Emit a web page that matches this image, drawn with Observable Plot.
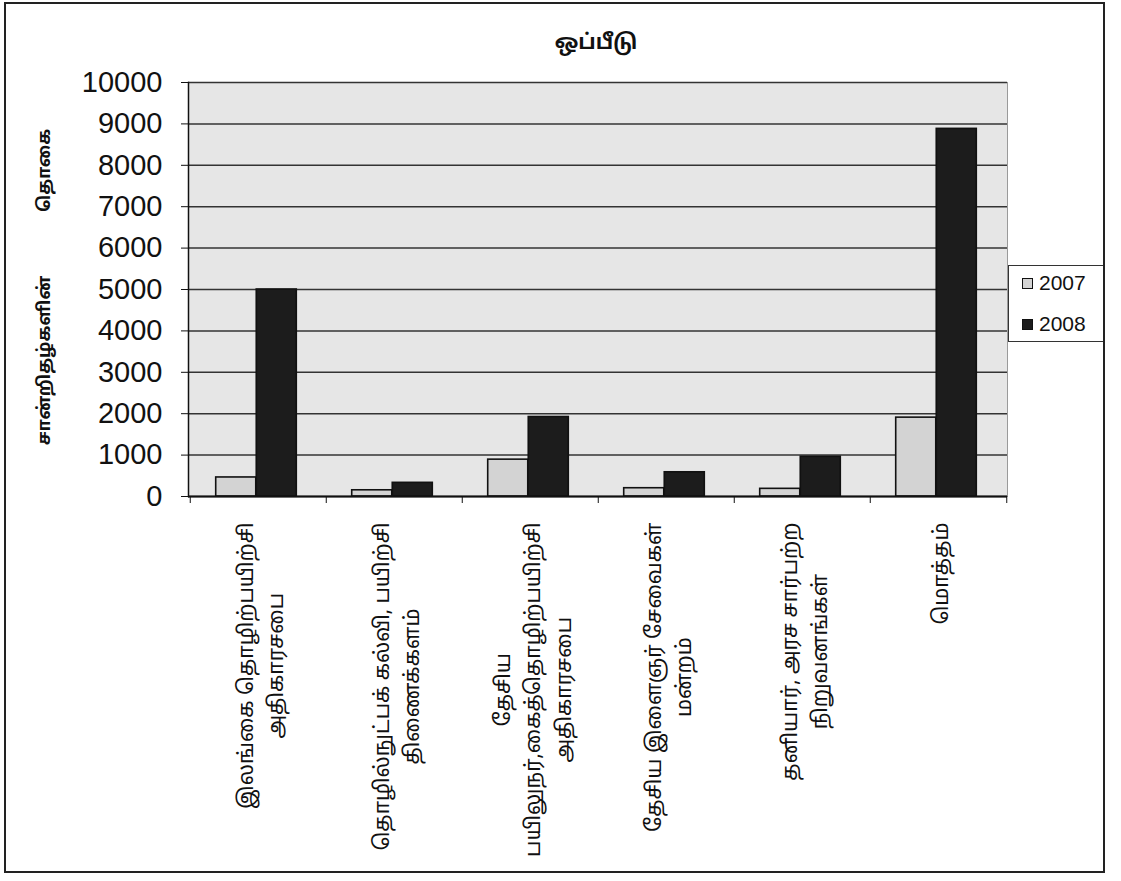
<!DOCTYPE html>
<html>
<head>
<meta charset="utf-8">
<script src="https://cdn.jsdelivr.net/npm/d3@7"></script>
<script src="https://cdn.jsdelivr.net/npm/@observablehq/plot@0.6"></script>
<style>
  body { margin: 0; background: #fff; }
  #wrap { position: relative; width: 1121px; height: 881px; overflow: hidden; background: #fff; }
  #border { position: absolute; left: 4px; top: 2px; width: 1101px; height: 871px; border: 2px solid #222; box-sizing: border-box; pointer-events: none; }
  #title { position: absolute; left: 396px; top: 31px; width: 400px; text-align: center; font: bold 21px "Noto Sans Tamil", "Noto Sans", "Liberation Sans", sans-serif; color: #111; }
  #ylabel { position: absolute; left: 45px; top: 287px; transform: translate(-50%, -50%) rotate(-90deg); white-space: pre; font: bold 17.5px "Noto Sans Tamil", "Noto Sans", "Liberation Sans", sans-serif; color: #111; }
  #legend { position: absolute; left: 1008px; top: 265px; width: 96px; height: 77px; border: 1.5px solid #333; box-sizing: border-box; background: #fff; font: 21px "Liberation Sans", Arial, sans-serif; color: #111; }
  .item { position: absolute; left: 13px; display: flex; align-items: center; }
  .sw { width: 11px; height: 11px; border: 1.5px solid #111; margin-right: 6px; box-sizing: border-box; }
  #chart { position: absolute; left: 0; top: 0; }
</style>
</head>
<body>
<div id="wrap">
  <div id="chart"></div>
  <div id="title"></div>
  <div id="ylabel"></div>
  <div id="legend"></div>
  <div id="border"></div>
</div>
<script>
// ---- data ----
const title = "ஒப்பீடு";
const yLabel = "சான்றிதழ்களின்              தொகை";
const categories = [
  "இலங்கை தொழிற்பயிற்சி\nஅதிகாரசபை",
  "தொழில்நுட்பக் கல்வி, பயிற்சி\nதிணைக்களம்",
  "தேசிய\nபயிலுநர்,கைத்தொழிற்பயிற்சி\nஅதிகாரசபை",
  "தேசிய இளைஞர் சேவைகள்\nமன்றம்",
  "தனியார், அரச சார்பற்ற\nநிறுவனங்கள்",
  "மொத்தம்"
];
const seriesNames = ["2007", "2008"];
const values2007 = [460, 150, 890, 200, 185, 1905];
const values2008 = [5000, 330, 1920, 585, 960, 8880];
const yTicks = [0, 1000, 2000, 3000, 4000, 5000, 6000, 7000, 8000, 9000, 10000];

// ---- layout ----
const W = 1121, H = 881;
const mL = 188, mR = 114, mT = 82, mB = 385;
const step = (W - mL - mR) / categories.length;
const barW = step * 0.297;
const colors = ["#d3d3d3", "#1c1c1c"];
const tamilFont = "'Noto Sans Tamil', 'Noto Sans', 'Liberation Sans', sans-serif";

const rows = categories.map((c, i) => ({cat: c, v2007: values2007[i], v2008: values2008[i]}));

const plot = Plot.plot({
  width: W, height: H,
  marginLeft: mL, marginRight: mR, marginTop: mT, marginBottom: mB,
  style: {fontFamily: "'Liberation Sans', Arial, sans-serif", color: "#111", background: "transparent"},
  x: {domain: categories, padding: 0, label: null},
  y: {domain: [0, 10000], label: null},
  marks: [
    Plot.frame({fill: "#e6e6e6", stroke: "#9a9a9a"}),
    Plot.ruleY(yTicks, {stroke: "#333", strokeWidth: 1.5}),
    Plot.barY(rows, {x: "cat", y: "v2007", fill: colors[0], stroke: "#111", strokeWidth: 1.6,
      insetLeft: step / 2 - barW - 2, insetRight: step / 2 + 2}),
    Plot.barY(rows, {x: "cat", y: "v2008", fill: colors[1], stroke: "#111", strokeWidth: 1.6,
      insetLeft: step / 2 - 2, insetRight: step / 2 - barW + 2}),
    Plot.ruleY([0], {stroke: "#111", strokeWidth: 2}),
    Plot.frame({anchor: "left", stroke: "#111", strokeWidth: 1.5}),
    Plot.axisY({ticks: yTicks, tickSize: 7, tickPadding: 19, fontSize: 29, tickFormat: d => String(d), label: null}),
    Plot.axisX({tickSize: 0, tickPadding: 26, tickRotate: -90, fontSize: 21, lineHeight: 1.45,
      fontFamily: tamilFont, label: null}),
    Plot.axisX({tickSize: 7, tickFormat: () => "", dx: -step / 2, label: null}),
    Plot.axisX({ticks: [categories[categories.length - 1]], tickSize: 7, tickFormat: () => "", dx: step / 2, label: null})
  ]
});
document.getElementById("chart").appendChild(plot);

// center multi-line tick labels within their block (top end stays at the axis)
plot.querySelectorAll('g[aria-label="x-axis tick label"] text').forEach(t => {
  const spans = t.querySelectorAll("tspan");
  if (!t.textContent) return;
  if (spans.length) {
    let maxLen = 0;
    spans.forEach(s => { maxLen = Math.max(maxLen, s.getComputedTextLength()); });
    t.setAttribute("text-anchor", "middle");
    spans.forEach(s => s.setAttribute("x", -maxLen / 2));
  }
});

document.getElementById("title").textContent = title;
document.getElementById("ylabel").textContent = yLabel;
const legend = document.getElementById("legend");
seriesNames.forEach((name, i) => {
  const it = document.createElement("div");
  it.className = "item";
  it.style.top = (i === 0 ? 5 : 46) + "px";
  const sw = document.createElement("div");
  sw.className = "sw";
  sw.style.background = colors[i];
  const tx = document.createElement("span");
  tx.textContent = name;
  it.appendChild(sw); it.appendChild(tx);
  legend.appendChild(it);
});
</script>
</body>
</html>
